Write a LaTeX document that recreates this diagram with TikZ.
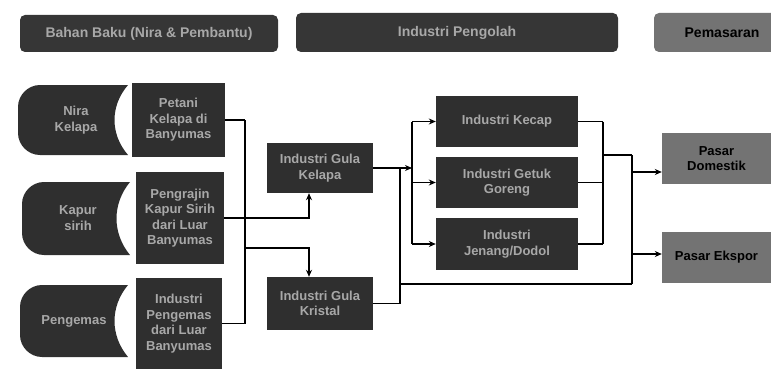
\documentclass[tikz,border=0pt]{standalone}
\usepackage{fontspec}
\setmainfont{Liberation Sans}
\usetikzlibrary{arrows.meta}
\definecolor{dk}{HTML}{2F2F2F}
\definecolor{hd}{HTML}{363636}
\definecolor{md}{HTML}{737373}
\definecolor{tx}{HTML}{A8A8A8}
\newcommand\leftcap[4]{\fill[dk] (#2,#3) -- ({#1+22},#3) .. controls ({#1+10},#3) and (#1,{#3+10}) .. (#1,{#3+22}) -- (#1,{#4-22}) .. controls (#1,{#4-10}) and ({#1+10},#4) .. ({#1+22},#4) -- (#2,#4) .. controls ({#2-18},{#4-0.3*(#4-#3)}) and ({#2-18},{#3+0.3*(#4-#3)}) .. (#2,#3) -- cycle;}
\tikzset{
  dbox/.style={fill=dk, text=tx, font=\bfseries\fontsize{13}{15.5}\selectfont, align=center, inner sep=0pt},
  lbox/.style={fill=md, text=black, font=\bfseries\fontsize{13}{15.5}\selectfont, align=center, inner sep=0pt},
  hbox/.style={fill=hd, text=tx, rounded corners=5pt, font=\bfseries\fontsize{14}{16}\selectfont, align=center, inner sep=0pt},
  captext/.style={text=tx, font=\bfseries\fontsize{13}{15.5}\selectfont, align=center, inner sep=0pt},
  conn/.style={line width=1.1pt, black},
  arr/.style={conn, -{Stealth[length=7pt,width=6pt]}}
}
\begin{document}
\begin{tikzpicture}[x=1pt,y=-1pt]
\useasboundingbox (0,0) rectangle (771,369);
\clip (0,0) rectangle (771,369);
% headers
\node[hbox, minimum width=258pt, minimum height=37pt] (h1) at (149,33.5) {Bahan Baku (Nira \& Pembantu)};
\node[hbox, minimum width=322pt, minimum height=39pt] (h2) at (457,32.5) {Industri Pengolah};
\node[hbox, fill=md, text=black, minimum width=136pt, minimum height=39pt] (h3) at (722,32.5) {Pemasaran};
% left caps
\leftcap{18}{128}{85}{155}
\leftcap{22}{130}{182}{255}
\leftcap{20}{128}{285}{357}
\node[captext] (n1) at (76,120) {Nira\\Kelapa};
\node[captext] (n2) at (78,218) {Kapur\\sirih};
\node[captext] (n3) at (74,321) {Pengemas};
% second column
\node[dbox, minimum width=93pt, minimum height=74pt] (p1) at (178.5,120) {Petani\\Kelapa di\\Banyumas};
\node[dbox, minimum width=88pt, minimum height=92pt] (p2) at (180,218) {Pengrajin\\Kapur Sirih\\dari Luar\\Banyumas};
\node[dbox, minimum width=86pt, minimum height=91pt] (p3) at (179,323.5) {Industri\\Pengemas\\dari Luar\\Banyumas};
% gula
\node[dbox, minimum width=106pt, minimum height=50pt] (kel) at (320,168) {Industri Gula\\Kelapa};
\node[dbox, minimum width=106pt, minimum height=53pt] (kri) at (320,303.5) {Industri Gula\\Kristal};
% products
\node[dbox, minimum width=142pt, minimum height=51pt] (kec) at (507,121.5) {Industri Kecap};
\node[dbox, minimum width=142pt, minimum height=51pt] (get) at (507,182.5) {Industri Getuk\\Goreng};
\node[dbox, minimum width=142pt, minimum height=52pt] (jen) at (507,244) {Industri\\Jenang/Dodol};
% markets
\node[lbox, minimum width=109pt, minimum height=51pt] (dom) at (716.5,158.5) {Pasar\\Domestik};
\node[lbox, minimum width=109pt, minimum height=51pt] (eks) at (716.5,257.5) {Pasar Ekspor};
% bus coordinates
\coordinate (bl) at (245,0);
\coordinate (sp) at (245,248);
\coordinate (jn) at (400,0);
\coordinate (bm) at (412,0);
\coordinate (br) at (603,0);
\coordinate (mr) at (603,155);
\coordinate (bx) at (632,0);
\coordinate (kx) at (400,284);
% left connectors
\draw[conn] (p1.east) -- (p1.east -| bl);
\draw[conn] (p3.east) -- (p3.east -| bl);
\draw[conn] (p1.east -| bl) -- (p3.east -| bl);
\draw[arr] (p2.east) -| ([xshift=-11pt]kel.south);
\draw[arr] (sp) -| ([xshift=-11pt]kri.north);
% middle connectors
\draw[arr] (kel.east) -- (kel.east -| bm);
\draw[conn] (kri.east) -| (kel.east -| jn);
\draw[conn] (kec.west -| bm) -- (jen.west -| bm);
\draw[arr] (kec.west -| bm) -- (kec.west);
\draw[arr] (get.west -| bm) -- (get.west);
\draw[arr] (jen.west -| bm) -- (jen.west);
% right connectors
\draw[conn] (kec.east) -- (kec.east -| br);
\draw[conn] (get.east) -- (get.east -| br);
\draw[conn] (jen.east) -- (jen.east -| br);
\draw[conn] (kec.east -| br) -- (jen.east -| br);
\draw[conn] (mr) -- (mr -| bx);
\draw[conn] (kx) -- (kx -| bx);
\draw[conn] (mr -| bx) -- (kx -| bx);
\draw[arr] ([yshift=-13.5pt]dom.west -| bx) -- ([yshift=-13.5pt]dom.west);
\draw[arr] ([yshift=3.5pt]eks.west -| bx) -- ([yshift=3.5pt]eks.west);
\end{tikzpicture}
\end{document}
